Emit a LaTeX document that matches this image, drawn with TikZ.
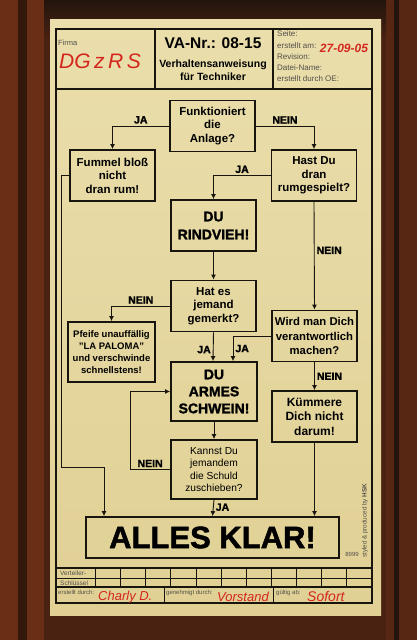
\documentclass[tikz,border=0pt]{standalone}
\usepackage{fontspec}
\setmainfont{Liberation Sans}
\newfontfamily\heavy[FakeBold=1.6]{Liberation Sans Bold}
\usetikzlibrary{arrows.meta}

\definecolor{paper}{RGB}{234,222,172}
\definecolor{paperlow}{RGB}{224,208,148}
\definecolor{wood}{RGB}{74,34,18}
\definecolor{wooddark}{RGB}{34,21,14}
\definecolor{woodred}{RGB}{104,46,22}
\definecolor{pen}{RGB}{212,38,28}
\definecolor{ink}{RGB}{24,20,14}

\tikzset{
  box/.style={draw=ink, line width=1.8pt, align=center, inner sep=0pt,
    minimum width=85pt, minimum height=51pt,
    font=\bfseries\fontsize{11.5}{13.5}\selectfont},
  shout/.style={box, font=\heavy\fontsize{14}{18}\selectfont},
  lbl/.style={font=\heavy\fontsize{10.5}{10.5}\selectfont, inner sep=2pt},
  conn/.style={draw=ink, line width=0.9pt, -{Latex[length=5pt,width=5pt]}},
  hand/.style={text=pen, font=\itshape\fontsize{13}{13}\selectfont, inner sep=0pt},
  small/.style={text=ink!75, font=\fontsize{7.5}{11.2}\selectfont, inner sep=0pt, align=left},
}

\begin{document}
\begin{tikzpicture}[x=1pt, y=-1pt]
  \useasboundingbox (0,0) rectangle (417,640);
  % wall
  \fill[wood] (0,0) rectangle (417,640);
  \fill[woodred] (0,0) rectangle (44,640);
  \fill[wood!70!black] (18,0) rectangle (27,640);
  \fill[woodred!85!black] (386,0) rectangle (417,640);
  \fill[wooddark] (394,0) rectangle (399,640);
  \shade[top color=wooddark, bottom color=wood] (44,0) rectangle (386,40);
  % sheet
  \shade[top color=paper, bottom color=paperlow] (50,19) rectangle (381,615);
  \draw[ink, line width=1.1pt] (56,29) rectangle (372,603);

  % head
  \draw[ink, line width=1.1pt] (56,89) -- (372,89);
  \draw[ink, line width=1.1pt] (155,29) -- (155,89);
  \draw[ink, line width=1.1pt] (273,29) -- (273,89);
  \node[small, anchor=west] (firma) at (58,43) {Firma};
  \node[hand, font=\itshape\fontsize{21}{21}\selectfont] (dgzrs) at (100,61) {DG\,z\,R\,S};
  \node[font=\bfseries\fontsize{15.5}{15.5}\selectfont] (vanr) at (213,43) {VA-Nr.: 08-15};
  \node[align=center, font=\bfseries\fontsize{10.5}{13}\selectfont] (titel) at (213,70)
    {Verhaltensanweisung\\für Techniker};
  \node[small, anchor=north west, font=\fontsize{8}{11.2}\selectfont] (meta) at (277,31)
    {Seite:\\erstellt am:\\Revision:\\Datei-Name:\\erstellt durch OE:};
  \node[hand, font=\bfseries\itshape\fontsize{12}{12}\selectfont] (datum) at (344,48) {27-09-05};

  % flow
  \node[box] (anlage) at (212.5,126) {Funktioniert\\die\\Anlage?};
  \node[box] (fummel) at (112.5,175.5) {Fummel bloß\\nicht\\dran rum!};
  \node[box] (gespielt) at (314,175.5) {Hast Du\\dran\\rumgespielt?};
  \node[shout] (rindvieh) at (213.5,225.5) {DU\\RINDVIEH!};
  \node[box] (gemerkt) at (213.5,306) {Hat es\\jemand\\gemerkt?};
  \node[box, minimum width=87pt, minimum height=60pt,
    font=\bfseries\fontsize{9.5}{12}\selectfont] (pfeife) at (111.5,352)
    {Pfeife unauffällig\\"LA PALOMA"\\und verschwinde\\schnellstens!};
  \node[box, font=\bfseries\fontsize{11.3}{14.5}\selectfont] (verantw) at (314.5,336)
    {Wird man Dich\\verantwortlich\\machen?};
  \node[shout, minimum width=86pt, minimum height=59pt,
    font=\heavy\fontsize{14}{17}\selectfont] (armes) at (214,391.5) {DU\\ARMES\\SCHWEIN!};
  \node[box, font=\bfseries\fontsize{12}{14.5}\selectfont] (kuemmere) at (314.5,416.5)
    {Kümmere\\Dich nicht\\darum!};
  \node[box, minimum width=86pt, minimum height=59pt,
    font=\fontsize{10.2}{12.6}\selectfont] (schuld) at (214,469.5)
    {Kannst Du\\jemandem\\die Schuld\\zuschieben?};
  \node[box, minimum width=253pt, minimum height=41pt,
    font=\heavy\fontsize{31}{31}\selectfont] (klar) at (212.5,537.5) {ALLES KLAR!};
  \coordinate (umweg) at (61,467);

  \draw[conn] (anlage.west) -| node[lbl, above, pos=0.25] {JA} (fummel.north);
  \draw[conn] (anlage.east) -| node[lbl, above, pos=0.25] {NEIN} (gespielt.north);
  \draw[conn] (gespielt.west) -| node[lbl, above, pos=0.25] {JA} (rindvieh.north);
  \draw[conn] (gespielt.south) -- node[lbl, right, pos=0.45] {NEIN} (verantw.north);
  \draw[conn] (rindvieh.south) -- (gemerkt.north);
  \draw[conn] (gemerkt.west) -| node[lbl, above, pos=0.25] {NEIN} (pfeife.north);
  \draw[conn] (gemerkt.south) -- node[lbl, left, pos=0.6] {JA} ([xshift=-1pt]armes.north);
  \draw[conn] (verantw.west) -| node[lbl, right, pos=0.75] {JA} ([xshift=19pt]armes.north);
  \draw[conn] (verantw.south) -- node[lbl, right] {NEIN} (kuemmere.north);
  \draw[conn] (armes.south) -- (schuld.north);
  \draw[conn] (schuld.west) -- ++(-40,0) node[lbl, midway, above] {NEIN} |- (armes.west);
  \draw[conn] (schuld.south) -- node[lbl, right, pos=0.45] {JA} (klar.north);
  \draw[conn] (kuemmere.south) -- (kuemmere.south |- klar.north);
  \draw[conn] (fummel.west) -| (umweg) -| ([xshift=-108.5pt]klar.north);

  \node[small, font=\fontsize{6}{6}\selectfont] (nummer) at (352,554) {8999};
  \node[small, rotate=90, anchor=west, font=\fontsize{6.3}{6.3}\selectfont] (hsk) at (365,558)
    {styled \& produced by \textbf{HSK}};

  % foot
  \draw[ink, line width=1.1pt] (56,568) -- (372,568);
  \draw[ink, line width=0.8pt] (56,578) -- (372,578);
  \draw[ink, line width=1.1pt] (56,587) -- (372,587);
  \foreach \xx in {95,120,145,170,196,221,246,271,296,321,346}
    \draw[ink, line width=0.8pt] (\xx,568) -- (\xx,587);
  \draw[ink, line width=0.8pt] (164,587) -- (164,603);
  \draw[ink, line width=0.8pt] (273,587) -- (273,603);
  \node[small, anchor=west, font=\fontsize{6.5}{6.5}\selectfont] (verteiler) at (60,573.5) {Verteiler-};
  \node[small, anchor=west, font=\fontsize{6.5}{6.5}\selectfont] (schluessel) at (60,583) {Schlüssel};
  \node[small, anchor=west, font=\fontsize{6}{6}\selectfont] (erstellt) at (58,592.5) {erstellt durch:};
  \node[hand, anchor=west] (charly) at (98,597) {Charly D.};
  \node[small, anchor=west, font=\fontsize{6}{6}\selectfont] (genehmigt) at (166,592.5) {genehmigt durch:};
  \node[hand, anchor=west] (vorstand) at (217,597) {Vorstand};
  \node[small, anchor=west, font=\fontsize{6}{6}\selectfont] (gueltig) at (276,592.5) {gültig ab:};
  \node[hand, anchor=west, font=\itshape\fontsize{14}{14}\selectfont] (sofort) at (307,596) {Sofort};
\end{tikzpicture}
\end{document}
